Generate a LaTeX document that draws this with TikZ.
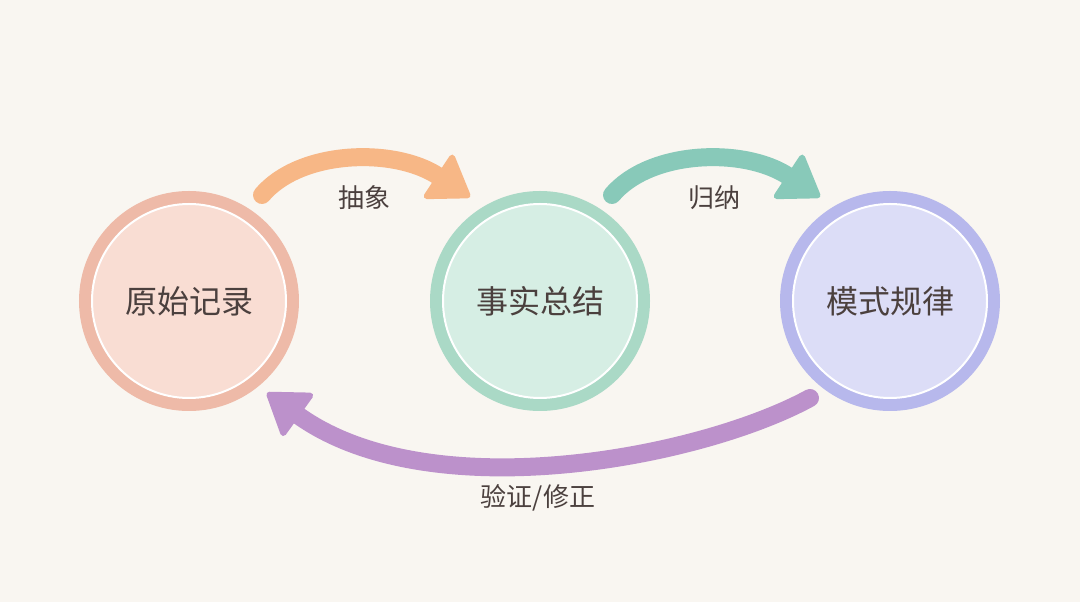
\documentclass[tikz,border=0pt]{standalone}
\usepackage{fontspec}
\setmainfont{Noto Sans CJK SC}
\usepackage{tikz}
\usepackage{xcolor}
\usetikzlibrary{arrows.meta,calc}
\definecolor{paperbg}{RGB}{249,246,241}
\definecolor{inktext}{RGB}{75,64,62}
\definecolor{rawband}{RGB}{238,186,168}
\definecolor{rawfill}{RGB}{249,221,211}
\definecolor{factband}{RGB}{170,217,198}
\definecolor{factfill}{RGB}{214,238,228}
\definecolor{patband}{RGB}{183,184,236}
\definecolor{patfill}{RGB}{220,221,247}
\definecolor{arroworange}{RGB}{247,183,134}
\definecolor{arrowteal}{RGB}{136,201,185}
\definecolor{arrowpurple}{RGB}{188,145,203}

\begin{document}
\begin{tikzpicture}[x=1pt, y=1pt,
    stage/.style={circle, minimum size=207pt, line width=13pt, text=inktext,
        font=\fontsize{32}{38}\selectfont},
    flowlabel/.style={text=inktext, font=\fontsize{26}{31}\selectfont},
    bigarrow/.style={line width=18pt, line cap=round,
        -{Triangle[round, length=42pt, width=56pt, line width=6pt]}}]
    \fill[paperbg] (0,0) rectangle (1080,602);
    \useasboundingbox (0,0) rectangle (1080,602);

    % three stages
    \node[stage, fill=rawfill, draw=rawband] (raw) at (189,301) {原始记录};
    \node[stage, fill=factfill, draw=factband] (fact) at (540,301) {事实总结};
    \node[stage, fill=patfill, draw=patband] (pattern) at (890,301) {模式规律};
    \draw[white, line width=2pt] (raw) circle (97pt);
    \draw[white, line width=2pt] (fact) circle (97pt);
    \draw[white, line width=2pt] (pattern) circle (97pt);

    % forward arrows
    \draw[bigarrow, arroworange] ($(raw)+(73,106)$) .. controls +(38,45) and +(-76,50) .. ($(fact)+(-70,104)$);
    \node[flowlabel] (abstract) at (364,404) {抽象};
    \draw[bigarrow, arrowteal] ($(fact)+(72,106)$) .. controls +(38,45) and +(-76,50) .. ($(pattern)+(-70,104)$);
    \node[flowlabel] (induce) at (714,404) {归纳};

    % feedback arrow
    \draw[bigarrow, arrowpurple] ($(pattern)+(-80,-97)$) .. controls +(-110,-60) and +(163,-117) .. ($(raw)+(78,-92)$);
    \node[flowlabel] (verify) at (538,104) {验证/修正};
\end{tikzpicture}
\end{document}
